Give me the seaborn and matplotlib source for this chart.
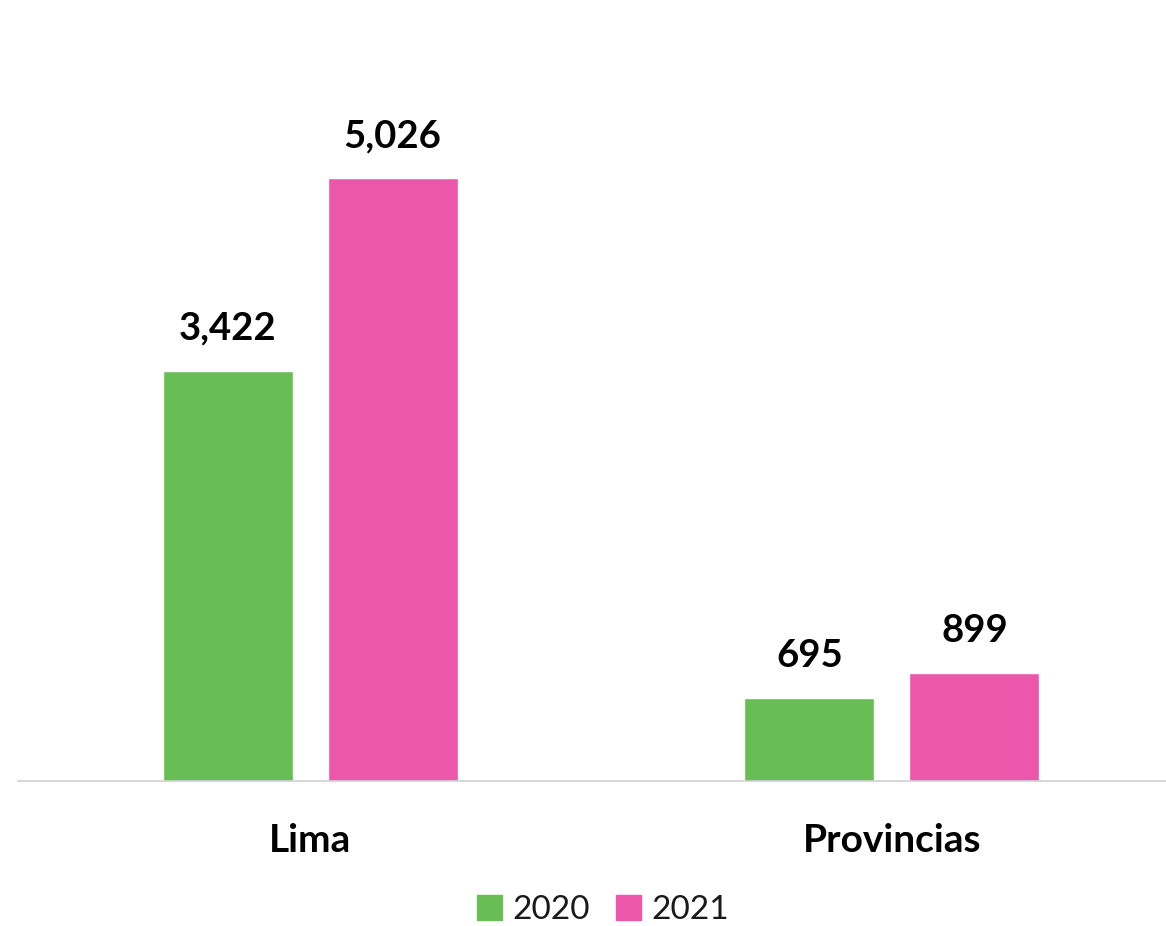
import matplotlib
matplotlib.use("Agg")
import matplotlib.pyplot as plt
import seaborn as sns
import pandas as pd

categories = ["Lima", "Provincias"]
years = ["2020", "2021"]
values_2020 = [3422, 695]
values_2021 = [5026, 899]
colors = {"2020": "#68bd55", "2021": "#ec57ab"}

df = pd.DataFrame({
    "region": categories * 2,
    "year": [years[0]] * 2 + [years[1]] * 2,
    "value": values_2020 + values_2021,
})

sns.set_theme(style="white")
plt.rcParams["font.family"] = ["Lato", "DejaVu Sans"]

W, H = 1166, 926
fig = plt.figure(figsize=(W / 100, H / 100), dpi=100)
ax = fig.add_axes([18 / W, (H - 781) / H, (W - 18) / W, 781 / H])

sns.barplot(data=df, x="region", y="value", hue="year", palette=colors,
            saturation=1, width=0.567, gap=0.212, ax=ax, legend=True)

ax.set_xlim(-0.502, 1.471)
ax.set_ylim(0, 6513)

for cont in ax.containers:
    ax.bar_label(cont, labels=[f"{v:,.0f}" for v in cont.datavalues],
                 padding=18, fontsize=27.5, fontweight="bold", color="black")

ax.set_xlabel("")
ax.set_ylabel("")
ax.set_yticks([])
ax.tick_params(axis="x", length=0, pad=30)
for lbl in ax.get_xticklabels():
    lbl.set_fontsize(28)
    lbl.set_fontweight("bold")
    lbl.set_color("black")

for s in ["top", "left", "right"]:
    ax.spines[s].set_visible(False)
ax.spines["bottom"].set_color("#d0d0d0")
ax.spines["bottom"].set_linewidth(1.2)

ax.legend_.remove()
handles = [plt.Rectangle((0, 0), 1, 1, color=colors[y]) for y in years]
leg = fig.legend(handles, years, loc="center", bbox_to_anchor=(603 / W, 1 - 910 / H),
                 ncol=2, frameon=False, fontsize=24, handlelength=0.75, handleheight=0.75,
                 handletextpad=0.3, columnspacing=0.8)
for t in leg.get_texts():
    t.set_color("#1a1a1a")

fig.savefig("out.png", dpi=100, facecolor="white")
